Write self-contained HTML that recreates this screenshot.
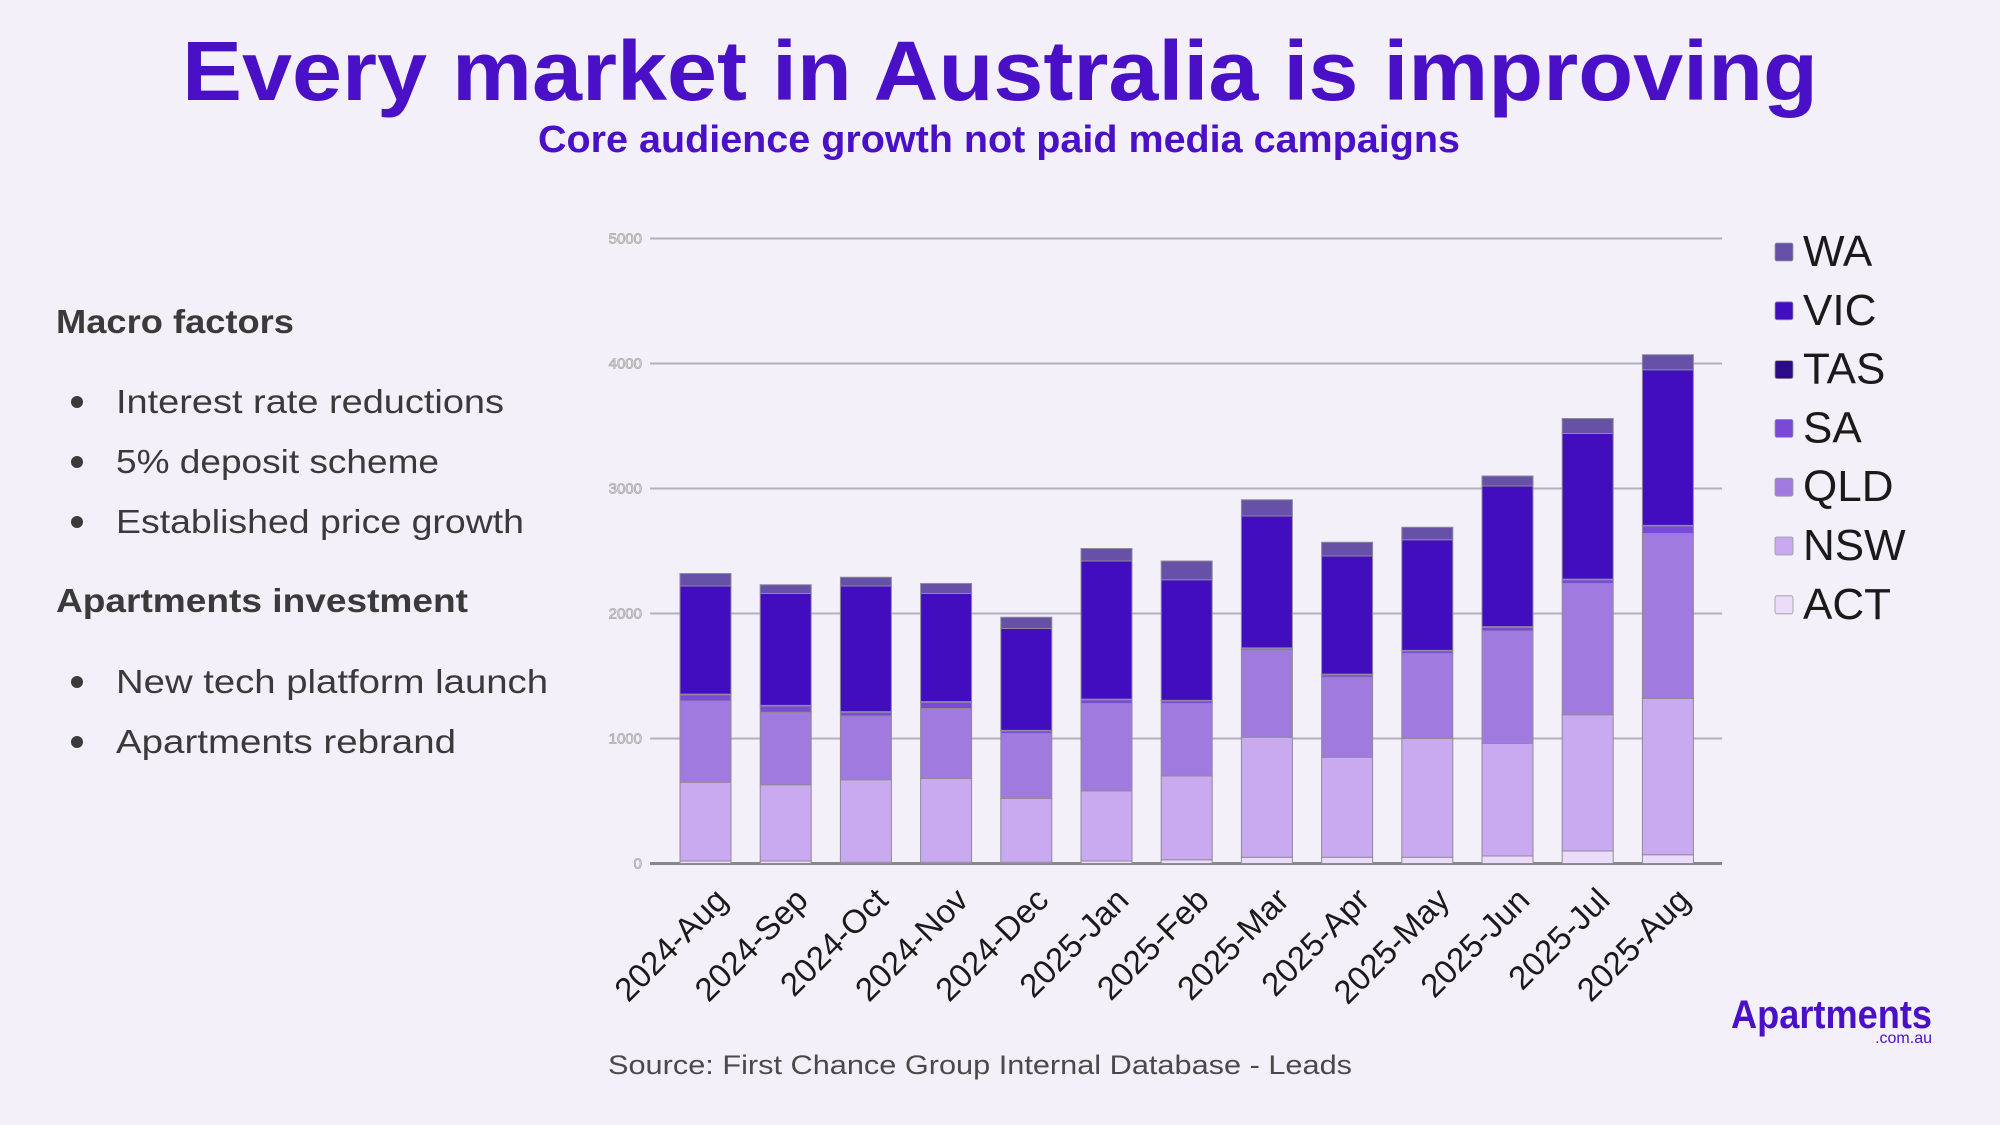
<!DOCTYPE html>
<html><head><meta charset="utf-8"><style>
html,body{margin:0;padding:0;background:#f3f0f9;}
svg{display:block;font-family:"Liberation Sans",sans-serif;}
</style></head><body>
<svg id="s" width="2000" height="1125" viewBox="0 0 2000 1125">
<rect width="2000" height="1125" fill="#f3f0f9"/>
<text x="1000" y="100" text-anchor="middle" font-size="84" font-weight="bold" fill="#4a10c8" textLength="1636" lengthAdjust="spacingAndGlyphs">Every market in Australia is improving</text>
<text x="999" y="152" text-anchor="middle" font-size="38" font-weight="bold" fill="#4a10c8" textLength="922" lengthAdjust="spacingAndGlyphs">Core audience growth not paid media campaigns</text>
<g fill="#3a3a3a" font-size="33">
<text x="56" y="333" font-weight="bold" textLength="238" lengthAdjust="spacingAndGlyphs">Macro factors</text>
<circle cx="77" cy="402" r="6"/>
<text x="116" y="413" textLength="388" lengthAdjust="spacingAndGlyphs">Interest rate reductions</text>
<circle cx="77" cy="462" r="6"/>
<text x="116" y="473" textLength="323" lengthAdjust="spacingAndGlyphs">5% deposit scheme</text>
<circle cx="77" cy="522" r="6"/>
<text x="116" y="533" textLength="408" lengthAdjust="spacingAndGlyphs">Established price growth</text>
<text x="56" y="612" font-weight="bold" textLength="412" lengthAdjust="spacingAndGlyphs">Apartments investment</text>
<circle cx="77" cy="682" r="6"/>
<text x="116" y="693" textLength="432" lengthAdjust="spacingAndGlyphs">New tech platform launch</text>
<circle cx="77" cy="742" r="6"/>
<text x="116" y="753" textLength="340" lengthAdjust="spacingAndGlyphs">Apartments rebrand</text>
</g>
<g id="chart"></g>
<text x="608" y="1074" font-size="27" fill="#4a4a4a" textLength="744" lengthAdjust="spacingAndGlyphs">Source: First Chance Group Internal Database - Leads</text>
<text x="1932" y="1028" text-anchor="end" font-size="40" font-weight="bold" fill="#4a10c8" textLength="201" lengthAdjust="spacingAndGlyphs">Apartments</text>
<text x="1932" y="1043" text-anchor="end" font-size="16" fill="#4a10c8">.com.au</text>
</svg>
<script>
const categories = ["2024-Aug","2024-Sep","2024-Oct","2024-Nov","2024-Dec","2025-Jan","2025-Feb","2025-Mar","2025-Apr","2025-May","2025-Jun","2025-Jul","2025-Aug"];
const seriesNames = ["ACT","NSW","QLD","SA","TAS","VIC","WA"];
const ACT = [20,20,10,10,10,20,30,50,50,50,60,100,70];
const NSW = [630,610,660,670,510,560,670,960,800,950,900,1090,1250];
const QLD = [650,580,510,560,520,700,580,700,640,680,900,1050,1320];
const SA  = [50,50,30,50,20,30,20,10,20,20,30,30,60];
const TAS = [5,5,5,5,5,5,5,5,5,5,5,5,5];
const VIC = [865,895,1005,865,815,1105,965,1055,945,885,1125,1165,1245];
const WA  = [100,70,70,80,90,100,150,130,110,100,80,120,120];
const yTicks = [0,1000,2000,3000,4000,5000];
const series = [ACT,NSW,QLD,SA,TAS,VIC,WA];
const colors = ["#ecdcfb","#c9aaf0","#a07ade","#7a4ad6","#2c0b86","#420cbf","#6650a8"];
const NS = "http://www.w3.org/2000/svg";
const g = document.getElementById("chart");
const x0 = 650, x1 = 1722, yBase = 863.5, yTop = 238.5, yMax = 5000;
const firstC = 705.5, step = 80.2, barW = 51;
function y(v){ return yBase - (v / yMax) * (yBase - yTop); }
function xc(i){ return firstC + step * i; }
function mk(tag, attrs){ const e = document.createElementNS(NS, tag); for (const k in attrs) e.setAttribute(k, attrs[k]); g.appendChild(e); return e; }
yTicks.forEach(t => {
  const l = mk("line", {x1: x0, x2: x1, y1: y(t), y2: y(t), stroke: t === 0 ? "#888" : "#b4b0bc", "stroke-width": t === 0 ? 3 : 2});
  
  
  const tx = mk("text", {x: 642, y: y(t) + 5, "text-anchor": "end", "font-size": 15, fill: "#e8e4ee", stroke: "#aaa", "stroke-width": 0.8});
  tx.textContent = t;
  
  
});
categories.forEach((c, i) => {
  let cum = 0;
  series.forEach((s, k) => {
    const v = s[i];
    const r = mk("rect", {x: xc(i) - barW / 2, y: y(cum + v), width: barW, height: Math.max(0, y(cum) - y(cum + v)), fill: colors[k], stroke: "#8f8a9a", "stroke-width": 1});
    
    
    cum += v;
  });
  const cx = xc(i) + 24, cy = 902;
  const tx = mk("text", {x: cx, y: cy, "text-anchor": "end", "font-size": 33, fill: "#1a1a1a", transform: "rotate(-45 " + cx + " " + cy + ")"});
  tx.textContent = c;
  
  
});
const legendOrder = [6,5,4,3,2,1,0];
legendOrder.forEach((k, j) => {
  const cy = 252 + j * 58.8;
  const sq = mk("rect", {x: 1775, y: cy - 9, width: 18, height: 18, fill: colors[k], stroke: "#999", "stroke-width": 0.8, rx: 2});
  
  
  const tx = mk("text", {x: 1803, y: cy + 14, "font-size": 44, fill: "#1a1a1a"});
  tx.textContent = seriesNames[k];
  
  
});
</script>
</body></html>
